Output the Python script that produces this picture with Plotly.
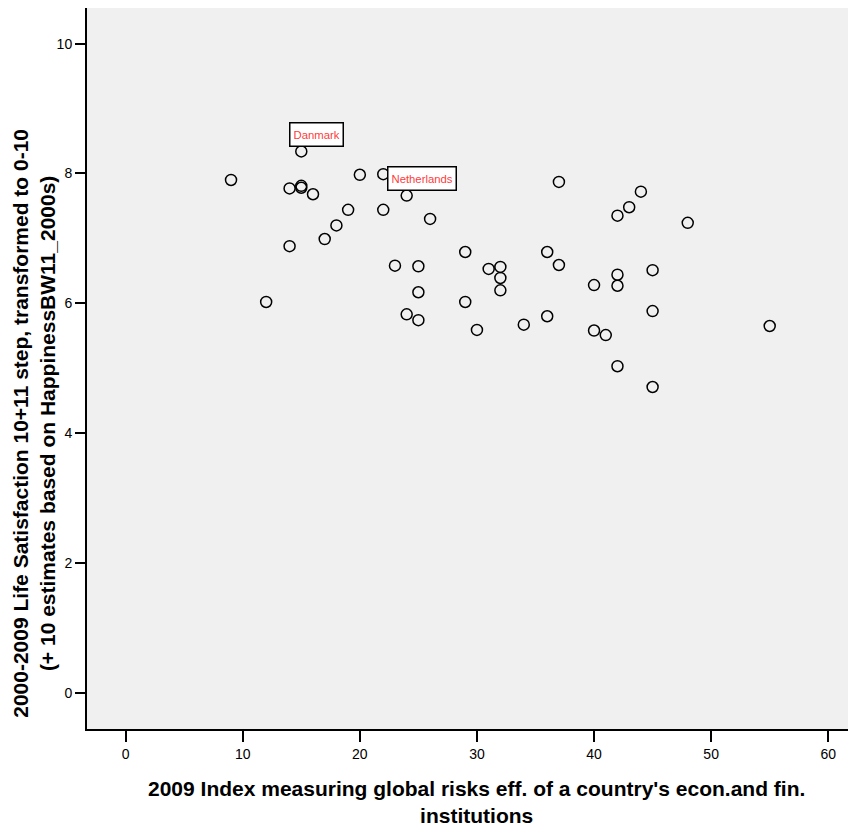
import plotly.graph_objects as go

# 2009 risk index (x) against 2000-2009 life satisfaction (y)
risk_index = [9, 12, 14, 14, 15, 15, 15, 16, 17, 18, 19, 20, 22, 22, 24, 26,
              23, 25, 25, 24, 25, 29, 29, 30, 31, 32, 32, 32, 34, 36, 36, 37,
              37, 40, 40, 41, 42, 42, 42, 42, 43, 44, 45, 45, 45, 48, 55]
life_sat = [7.90, 6.02, 7.77, 6.88, 8.34, 7.81, 7.78, 7.68, 6.99, 7.20, 7.44,
            7.98, 7.99, 7.44, 7.66, 7.30, 6.58, 6.57, 6.17, 5.83, 5.74, 6.79,
            6.02, 5.59, 6.53, 6.56, 6.39, 6.20, 5.67, 6.79, 5.80, 7.87, 6.59,
            6.28, 5.58, 5.51, 7.35, 6.44, 6.27, 5.03, 7.48, 7.72, 6.51, 5.88,
            4.71, 7.24, 5.65]

# labelled countries
label_names = ["Danmark", "Netherlands"]
label_x = [15, 24]
label_y = [8.34, 7.66]

x_title = "2009 Index measuring global risks eff. of a country's econ.and fin.<br>institutions"
y_title = "2000-2009 Life Satisfaction 10+11 step, transformed to 0-10<br>(+ 10 estimates based on HappinessBW11_2000s)"

font_family = "Arial, Liberation Sans, sans-serif"

fig = go.Figure()
fig.add_trace(go.Scatter(
    x=risk_index, y=life_sat, mode="markers",
    marker=dict(symbol="circle-open", size=11, color="black",
                line=dict(width=1.5, color="black")),
    showlegend=False))

for name, lx, ly in zip(label_names, label_x, label_y):
    fig.add_annotation(x=lx, y=ly, text=name, showarrow=False,
                       xshift=15, yshift=17, xanchor="center", height=16,
                       font=dict(family=font_family, size=11.3, color="#ff3b3b"),
                       bgcolor="white", bordercolor="black", borderwidth=1.5,
                       borderpad=3)

# axis titles as annotations so they sit where the original has them
title_font = dict(family=font_family, size=21, color="black", weight="bold")
fig.add_annotation(xref="paper", yref="paper", x=0.506, y=-0.1006,
                   xanchor="center", yanchor="middle", showarrow=False,
                   text=x_title, font=title_font, align="center")
fig.add_annotation(xref="paper", yref="paper", x=-0.0692, y=0.4244,
                   xanchor="center", yanchor="middle", showarrow=False,
                   text=y_title, font=title_font, align="center", textangle=-90)

# page body adds an 8px offset, so the figure is 8px smaller than the window
fig.update_layout(
    width=848, height=819,
    margin=dict(l=79, r=0, t=0, b=98),
    paper_bgcolor="white", plot_bgcolor="#f0f0f0",
    font=dict(family=font_family, size=14, color="black"),
    xaxis=dict(range=[-3.3, 62.37], tickvals=[0, 10, 20, 30, 40, 50, 60],
               showgrid=False, zeroline=False, showline=True, linecolor="black",
               linewidth=2, mirror=True, ticks="outside", ticklen=11,
               tickwidth=2, tickcolor="black", automargin=False),
    yaxis=dict(range=[-0.56, 10.55], tickvals=[0, 2, 4, 6, 8, 10],
               showgrid=False, zeroline=False, showline=True, linecolor="black",
               linewidth=2, ticks="outside", ticklen=10, tickwidth=2,
               tickcolor="black", automargin=False),
)

fig.write_html("out.html")
